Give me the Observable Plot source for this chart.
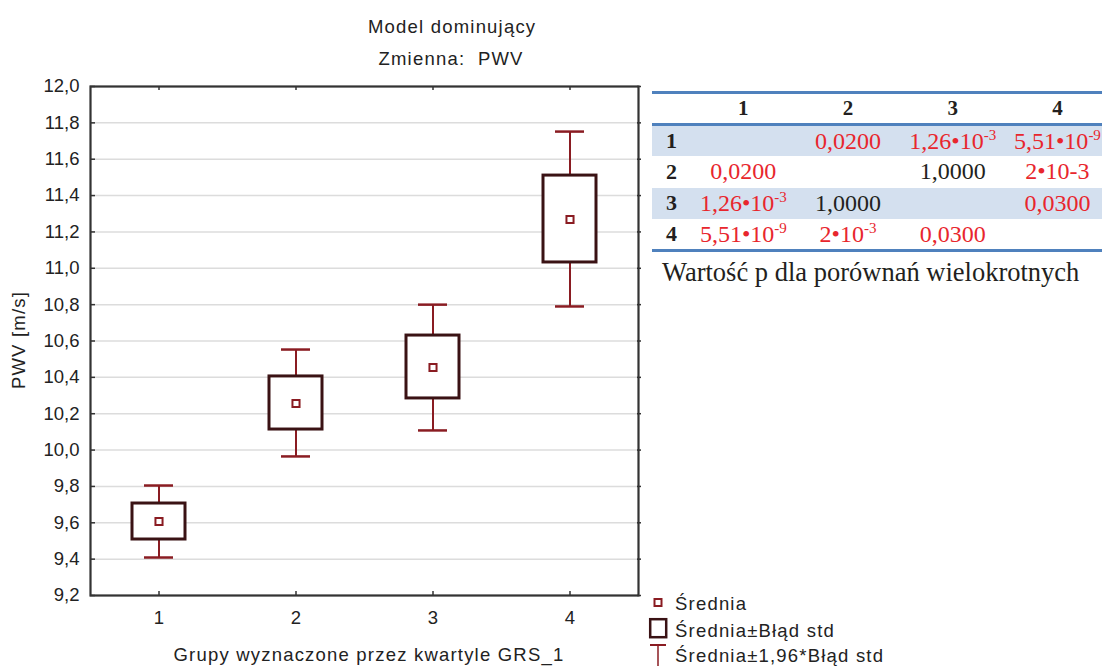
<!DOCTYPE html>
<html>
<head>
<meta charset="utf-8">
<script src="https://cdn.jsdelivr.net/npm/d3@7"></script>
<script src="https://cdn.jsdelivr.net/npm/@observablehq/plot@0.6"></script>
<style>
  html, body { margin: 0; padding: 0; background: #fff; }
  #wrap { position: relative; width: 1102px; height: 666px; overflow: hidden; background: #fff;
          font-family: "Liberation Sans", Arial, sans-serif; color: #222; }
  .lbl { position: absolute; font-size: 18.5px; line-height: 18px; letter-spacing: 1.2px; white-space: pre; }
  #chart { position: absolute; left: 0; top: 0; }
  #tbl { position: absolute; left: 652px; top: 91px; border-collapse: collapse; table-layout: fixed;
         font-family: "Liberation Serif", "Times New Roman", serif; }
  #tbl td, #tbl th { padding: 0; text-align: center; white-space: nowrap; vertical-align: middle; }
  #tbl th { font-size: 21px; font-weight: bold; color: #231f20; }
  #tbl td { font-size: 24px; }
  #tbl td.rl { font-size: 22px; font-weight: bold; color: #231f20; }
  #tbl td.red { color: #e8262d; }
  #tbl td.blk { color: #231f20; }
  #tbl sup { font-size: 15px; vertical-align: 9px; line-height: 0; }
  #tbl tr.shade td { background: #d4e0ef; }
  #cap { position: absolute; left: 662px; top: 259px; font-family: "Liberation Serif", "Times New Roman", serif;
         font-size: 26.5px; line-height: 26px; color: #231f20; white-space: nowrap; }
  #legicons { position: absolute; left: 0; top: 0; }
</style>
</head>
<body>
<div id="wrap">
  <div id="chart"></div>
  <div class="lbl" id="t1">Model dominujący</div>
  <div class="lbl" id="t2">Zmienna:  PWV</div>
  <div class="lbl" id="xl">Grupy wyznaczone przez kwartyle GRS_1</div>
  <div class="lbl" id="yl">PWV [m/s]</div>
  <table id="tbl"></table>
  <div id="cap">Wartość p dla porównań wielokrotnych</div>
  <svg id="legicons" width="1102" height="666"></svg>
  <div class="lbl" id="lg1"></div>
  <div class="lbl" id="lg2"></div>
  <div class="lbl" id="lg3"></div>
</div>
<script>
// ---- data ----
const groups = [1, 2, 3, 4];
const means  = [9.607, 10.256, 10.454, 11.268];
const seLo   = [9.508, 10.113, 10.284, 11.032];
const seHi   = [9.706, 10.405, 10.630, 11.510];
const ciLo   = [9.409, 9.965, 10.108, 10.790];
const ciHi   = [9.805, 10.553, 10.800, 11.752];
const yTicks = [9.2, 9.4, 9.6, 9.8, 10.0, 10.2, 10.4, 10.6, 10.8, 11.0, 11.2, 11.4, 11.6, 11.8, 12.0];

const legendLabels = ["Średnia", "Średnia±Błąd std", "Średnia±1,96*Błąd std"];
const tableHeader = ["1", "2", "3", "4"];
// each cell: [text, superscript, isRed]
const tableRows = [
  ["1", [["", "", false], ["0,0200", "", true], ["1,26•10", "-3", true], ["5,51•10", "-9", true]]],
  ["2", [["0,0200", "", true], ["", "", false], ["1,0000", "", false], ["2•10-3", "", true]]],
  ["3", [["1,26•10", "-3", true], ["1,0000", "", false], ["", "", false], ["0,0300", "", true]]],
  ["4", [["5,51•10", "-9", true], ["2•10", "-3", true], ["0,0300", "", true], ["", "", false]]]
];

const data = groups.map((g, i) => ({g, mean: means[i], seLo: seLo[i], seHi: seHi[i], ciLo: ciLo[i], ciHi: ciHi[i]}));

const maroon = "#8a1c22";
const dark = "#3a1214";
const axisCol = "#333";

const fmt = d => d.toFixed(1).replace(".", ",");

const chart = Plot.plot({
  width: 642,
  height: 666,
  marginLeft: 90,
  marginRight: 4,
  marginTop: 86,
  marginBottom: 71,
  x: {type: "band", domain: groups, padding: 0, axis: null},
  y: {domain: [9.2, 12.0], axis: null},
  style: {fontFamily: "Liberation Sans, Arial, sans-serif", fontSize: "18.5px", color: "#222", background: "transparent", overflow: "visible"},
  marks: [
    Plot.gridY(yTicks, {stroke: "#dcdcdc", strokeOpacity: 1, strokeWidth: 1.5}),
    Plot.ruleX(data, {x: "g", y1: "ciLo", y2: "ciHi", stroke: maroon, strokeWidth: 2}),
    Plot.tickY(data, {x: "g", y: "ciLo", stroke: maroon, strokeWidth: 2.5, insetLeft: 54, insetRight: 54}),
    Plot.tickY(data, {x: "g", y: "ciHi", stroke: maroon, strokeWidth: 2.5, insetLeft: 54, insetRight: 54}),
    Plot.barY(data, {x: "g", y1: "seLo", y2: "seHi", fill: "white", stroke: dark, strokeWidth: 3, insetLeft: 42, insetRight: 42}),
    Plot.dot(data, {x: "g", y: "mean", symbol: "square", r: 4, fill: "white", stroke: maroon, strokeWidth: 2}),
    // inward ticks
    Plot.ruleY(yTicks, {y: d => d, insetRight: 543, stroke: axisCol, strokeWidth: 1.5}),
    Plot.ruleY(yTicks, {y: d => d, insetLeft: 547, insetRight: -3, stroke: axisCol, strokeWidth: 1.5}),
    Plot.ruleX(groups, {x: d => d, insetTop: 505, stroke: axisCol, strokeWidth: 1.5}),
    Plot.ruleX(groups, {x: d => d, insetBottom: 505, stroke: axisCol, strokeWidth: 1.5}),
    Plot.axisY(yTicks, {tickSize: 0, tickPadding: 11, tickFormat: fmt, label: null, fill: "#222", style: "letter-spacing:1.1px"}),
    Plot.axisX(groups, {tickSize: 0, tickPadding: 15, label: null, fill: "#222"}),
    Plot.frame({stroke: axisCol, strokeWidth: 2.2})
  ]
});
document.getElementById("chart").appendChild(chart);

// ---- titles / axis labels ----
function place(id, cx, top) {
  const el = document.getElementById(id);
  el.style.top = top + "px";
  el.style.left = (cx - el.offsetWidth / 2) + "px";
}
place("t1", 452, 18);
place("t2", 451, 50);
place("xl", 369, 646);
{
  const el = document.getElementById("yl");
  el.style.left = (19 - el.offsetWidth / 2) + "px";
  el.style.top = (340 - 9) + "px";
  el.style.transform = "rotate(-90deg)";
  el.style.transformOrigin = "50% 50%";
}

// ---- table ----
const tbl = document.getElementById("tbl");
const colW = [39, 104.7, 104.7, 104.7, 104.7];
const cg = document.createElement("colgroup");
colW.forEach(w => { const c = document.createElement("col"); c.style.width = w + "px"; cg.appendChild(c); });
tbl.appendChild(cg);
tbl.style.width = colW.reduce((a, b) => a + b, 0) + "px";
tbl.style.borderTop = "3px solid #4f81bd";
tbl.style.borderBottom = "3px solid #4f81bd";
const hr = document.createElement("tr");
hr.style.height = "32px";
hr.style.borderBottom = "3px solid #4f81bd";
hr.appendChild(document.createElement("th"));
tableHeader.forEach(h => { const th = document.createElement("th"); th.textContent = h; hr.appendChild(th); });
tbl.appendChild(hr);
tableRows.forEach(([lab, cells], i) => {
  const tr = document.createElement("tr");
  tr.style.height = "31.6px";
  if (i % 2 === 0) tr.className = "shade";
  const l = document.createElement("td"); l.className = "rl"; l.textContent = lab; tr.appendChild(l);
  cells.forEach(([t, s, red]) => {
    const td = document.createElement("td");
    td.className = red ? "red" : "blk";
    td.appendChild(document.createTextNode(t));
    if (s) { const sp = document.createElement("sup"); sp.textContent = s; td.appendChild(sp); }
    tr.appendChild(td);
  });
  tbl.appendChild(tr);
});

// ---- legend ----
const ns = "http://www.w3.org/2000/svg";
const lsvg = document.getElementById("legicons");
function add(tag, attrs) { const e = document.createElementNS(ns, tag); for (const k in attrs) e.setAttribute(k, attrs[k]); lsvg.appendChild(e); }
add("rect", {x: 654.5, y: 599, width: 7, height: 7, fill: "white", stroke: maroon, "stroke-width": 2});
add("rect", {x: 650.2, y: 619.2, width: 16, height: 18, fill: "white", stroke: dark, "stroke-width": 2.5});
add("line", {x1: 650, x2: 666, y1: 645, y2: 645, stroke: maroon, "stroke-width": 2});
add("line", {x1: 658, x2: 658, y1: 645, y2: 668, stroke: maroon, "stroke-width": 1.5});
[["lg1", 595], ["lg2", 622], ["lg3", 647]].forEach(([id, top], i) => {
  const el = document.getElementById(id);
  el.textContent = legendLabels[i];
  el.style.left = "675px";
  el.style.top = top + "px";
});
</script>
</body>
</html>
